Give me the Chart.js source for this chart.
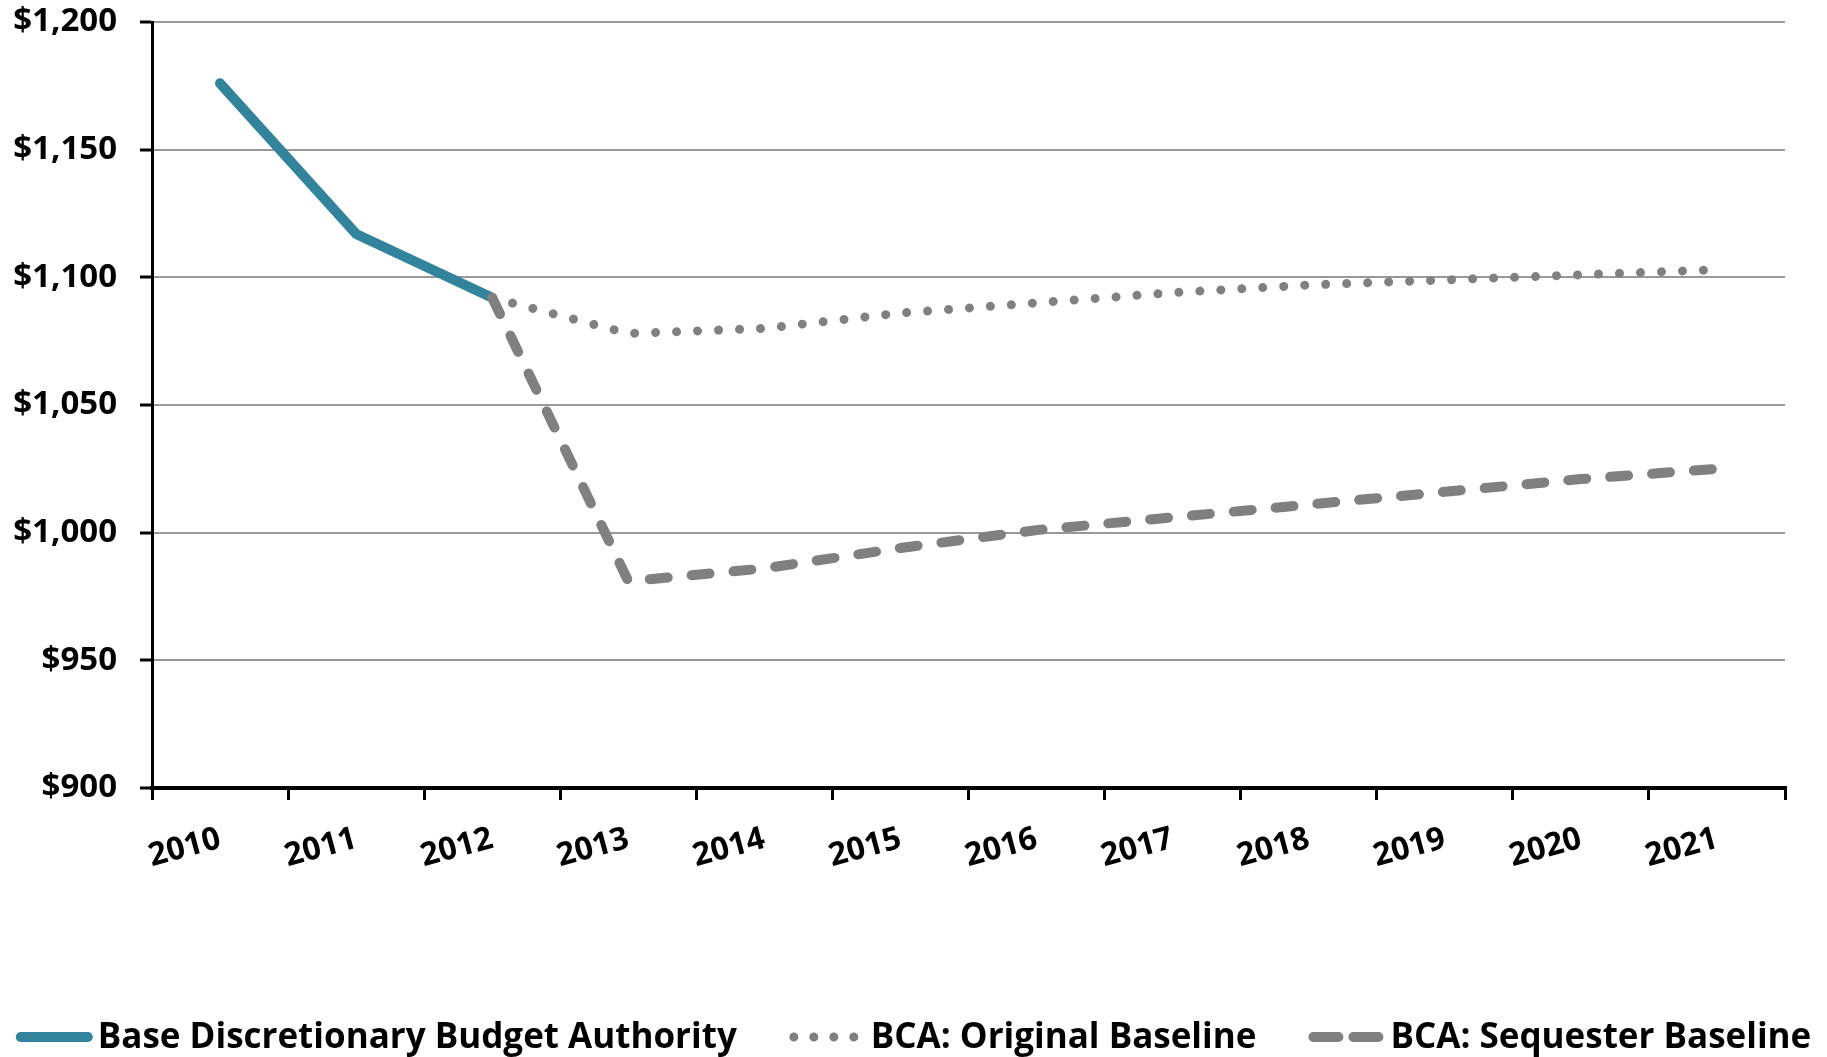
<!DOCTYPE html>
<html>
<head>
<meta charset="utf-8">
<script src="https://cdn.jsdelivr.net/npm/chart.js@4.4.1/dist/chart.umd.min.js"></script>
<style>
  html, body { margin: 0; padding: 0; background: #ffffff; }
  #wrap { width: 1827px; height: 1057px; }
</style>
</head>
<body>
<div id="wrap"><canvas id="c" width="1827" height="1057"></canvas></div>
<script>
const years = ['2010','2011','2012','2013','2014','2015','2016','2017','2018','2019','2020','2021'];
const baseAuthority = [1176, 1117, 1092, null, null, null, null, null, null, null, null, null];
const originalBaseline = [null, null, 1092, 1078, 1080, 1086, 1090, 1094, 1097, 1099, 1101, 1103];
const sequesterBaseline = [null, null, 1092, 981, 986, 994, 1001, 1006, 1011, 1016, 1021, 1025];
const seriesNames = ['Base Discretionary Budget Authority', 'BCA: Original Baseline', 'BCA: Sequester Baseline'];
const yMin = 900, yMax = 1200, yStep = 50;

const FONT = '"Open Sans", "Noto Sans", "DejaVu Sans", sans-serif';
const TEAL = '#31849B';
const GRAY = '#808080';

const legendPlugin = {
  id: 'excelLegend',
  afterDraw(chart) {
    const ctx = chart.ctx;
    const sampleW = 77, textGap = 5, itemGap = 52;
    const lineY = 1037, textY = 1048;
    ctx.save();
    ctx.font = 'bold 35px ' + FONT;
    const items = chart.data.datasets.map(ds => ({ds, w: ctx.measureText(ds.label).width}));
    let total = 0;
    items.forEach((it, i) => { total += sampleW + textGap + it.w + (i ? itemGap : 0); });
    let x = (chart.width - total) / 2;
    items.forEach(it => {
      const ds = it.ds;
      ctx.beginPath();
      ctx.setLineDash(ds.legendDash || ds.borderDash || []);
      ctx.lineDashOffset = 0;
      ctx.lineCap = ds.borderCapStyle || 'butt';
      ctx.lineWidth = ds.borderWidth;
      ctx.strokeStyle = ds.borderColor;
      ctx.moveTo(x + 5, lineY);
      ctx.lineTo(x + sampleW - 5, lineY);
      ctx.stroke();
      ctx.setLineDash([]);
      ctx.fillStyle = '#000000';
      ctx.textBaseline = 'alphabetic';
      ctx.textAlign = 'left';
      ctx.fillText(ds.label, x + sampleW + textGap, textY);
      x += sampleW + textGap + it.w + itemGap;
    });
    ctx.restore();
  }
};

new Chart(document.getElementById('c'), {
  type: 'line',
  data: {
    labels: years,
    datasets: [
      {
        label: seriesNames[0], data: baseAuthority,
        borderColor: TEAL, backgroundColor: TEAL, borderWidth: 10,
        borderCapStyle: 'round', borderJoinStyle: 'round',
        pointRadius: 0, tension: 0, spanGaps: false, order: 3
      },
      {
        label: seriesNames[1], data: originalBaseline,
        borderColor: GRAY, backgroundColor: GRAY, borderWidth: 9,
        borderDash: [0.001, 21], legendDash: [0.001, 20], borderCapStyle: 'round', borderJoinStyle: 'round',
        pointRadius: 0, tension: 0, spanGaps: false, order: 2
      },
      {
        label: seriesNames[2], data: sequesterBaseline,
        borderColor: GRAY, backgroundColor: GRAY, borderWidth: 10,
        borderDash: [18, 24], legendDash: [25, 15], borderCapStyle: 'round', borderJoinStyle: 'round',
        pointRadius: 0, tension: 0, spanGaps: false, order: 1
      }
    ]
  },
  options: {
    responsive: false,
    devicePixelRatio: 1,
    animation: false,
    layout: { padding: { left: 0, right: 42, top: 22, bottom: 149 } },
    plugins: { legend: { display: false }, tooltip: { enabled: false } },
    scales: {
      x: {
        type: 'category',
        offset: true,
        grid: {
          offset: true, drawOnChartArea: false, drawTicks: true,
          tickLength: 12, tickColor: '#000000', tickWidth: 3, color: '#000000', lineWidth: 3
        },
        border: { display: true, color: '#000000', width: 4 },
        ticks: {
          autoSkip: false, minRotation: 15, maxRotation: 15, padding: 20,
          color: '#000000', font: { family: FONT, size: 32, weight: 'bold' }
        },
        afterFit(scale) {
          scale.height = 120;
          scale.paddingLeft = 0; scale.paddingRight = 0; scale.paddingTop = 0; scale.paddingBottom = 0;
        }
      },
      y: {
        min: yMin, max: yMax,
        grid: {
          color: '#999999', lineWidth: 2, drawTicks: true, tickLength: 12,
          tickColor: '#000000', tickWidth: 3
        },
        border: { display: true, color: '#000000', width: 3 },
        ticks: {
          stepSize: yStep, padding: 23, color: '#000000',
          font: { family: FONT, size: 33, weight: 'bold' },
          callback: v => '$' + Number(v).toLocaleString('en-US')
        },
        afterFit(scale) {
          scale.width = 152;
          scale.paddingLeft = 0; scale.paddingRight = 0; scale.paddingTop = 0; scale.paddingBottom = 0;
        }
      }
    }
  },
  plugins: [legendPlugin]
});
</script>
</body>
</html>
